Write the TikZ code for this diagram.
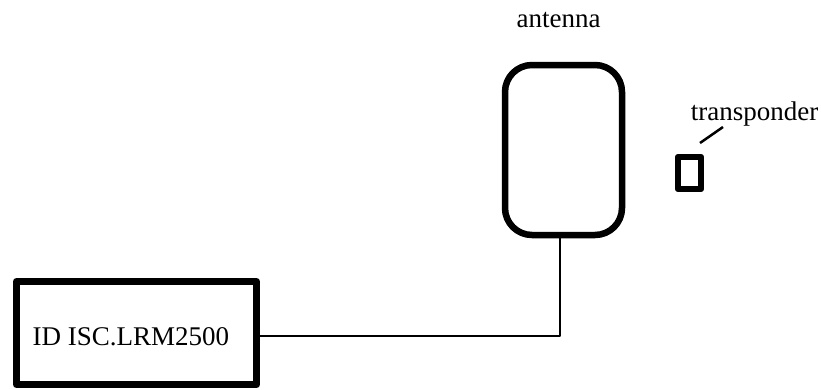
\documentclass[tikz,border=0pt]{standalone}
\usepackage{fontspec}
\setmainfont{Liberation Serif}
\begin{document}
\begin{tikzpicture}[x=1pt, y=-1pt, font=\fontsize{27}{32}\selectfont, line join=round,
	box/.style={draw, line width=7pt, inner sep=0pt, minimum width=240pt, minimum height=103pt},
	antennabox/.style={draw, line width=6.5pt, rounded corners=27pt, minimum width=117pt, minimum height=170pt},
	tagbox/.style={draw, line width=6.5pt, inner sep=0pt, minimum width=23pt, minimum height=32pt},
	wire/.style={line width=2.6pt}]
	\useasboundingbox (0,0) rectangle (821,389);
	\node[box] (reader) at (136.5,333) {};
	\node (readertext) at (131,337) {ID ISC.LRM2500};
	\node[antennabox] (antenna) at (563.5,150) {};
	\node[tagbox] (tag) at (689.5,173) {};
	\node[anchor=base] (antennalabel) at (558.5,27) {antenna};
	\node[anchor=base] (taglabel) at (754.5,120) {transponder};
	\path
	(700,143) coordinate (T1)
	(723,127) coordinate (T2)
	;
	\draw[wire] (reader.east |- 0,336) -| (antenna.south -| 560,0);
	\draw[line width=2.5pt] (T1)--(T2);
\end{tikzpicture}
\end{document}
